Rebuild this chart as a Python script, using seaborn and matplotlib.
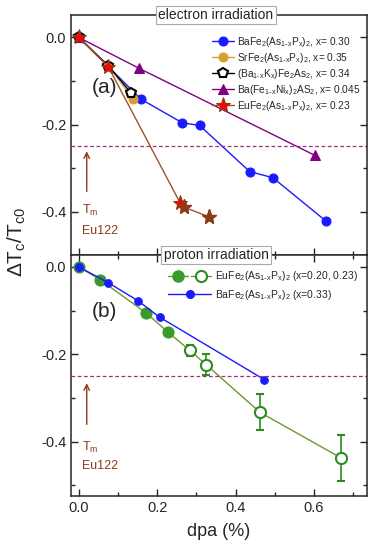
import seaborn as sns
import matplotlib.pyplot as plt
from matplotlib.legend_handler import HandlerTuple
from matplotlib.ticker import MultipleLocator

# electron irradiation (panel a)
ba_e_x = [0, 0.159, 0.264, 0.308, 0.436, 0.495, 0.631]
ba_e_y = [0, -0.142, -0.196, -0.202, -0.308, -0.322, -0.422]
sr_e_x = [0, 0.075, 0.139]
sr_e_y = [0, -0.065, -0.142]
bak_e_x = [0, 0.075, 0.133]
bak_e_y = [0, -0.065, -0.127]
ni_e_x = [0, 0.154, 0.603]
ni_e_y = [0, -0.071, -0.271]
eu_e_x = [0, 0.075, 0.259, 0.267, 0.332]
eu_e_y = [0, -0.067, -0.381, -0.389, -0.412]

# proton irradiation (panel b)
eu_p_x = [0, 0.054, 0.171, 0.227]
eu_p_y = [0, -0.029, -0.105, -0.149]
eu_p2_x = [0.283, 0.325, 0.462, 0.668]
eu_p2_y = [-0.191, -0.224, -0.333, -0.437]
eu_p2_err = [0.012, 0.024, 0.041, 0.053]
ba_p_x = [0, 0.075, 0.150, 0.206, 0.473]
ba_p_y = [0, -0.036, -0.077, -0.115, -0.258]

tm_level = -0.25

sns.set_style('ticks')
plt.rcParams['font.family'] = ['Liberation Sans', 'DejaVu Sans']
plt.rcParams['mathtext.default'] = 'regular'
plt.rcParams['axes.linewidth'] = 1.1

brown = '#8b3a1a'
dash_col = '#a0307f'
green = '#2e8b22'
olive = '#6b9a2a'
sub = r'$_{1\text{-}x}$'

fig = plt.figure(figsize=(3.74, 5.5), dpi=100)
ax_a = fig.add_axes([0.19, 0.536, 0.791, 0.437])
ax_b = fig.add_axes([0.19, 0.098, 0.791, 0.438])


def series(ax, x, y, **kw):
    sns.lineplot(x=x, y=y, ax=ax, estimator=None, sort=False, **kw)


series(ax_a, ba_e_x, ba_e_y, color='#1a1aff', marker='o', markersize=6.5,
       markeredgecolor='#1a1aff', lw=1, label='BaFe$_2$(As' + sub + 'P$_x$)$_2$, x= 0.30')
series(ax_a, sr_e_x, sr_e_y, color='#d4a030', marker='o', markersize=6.5,
       markeredgecolor='#d4a030', lw=1, label='SrFe$_2$(As' + sub + 'P$_x$)$_2$, x= 0.35')
series(ax_a, bak_e_x, bak_e_y, color='black', marker='p', markersize=7,
       markerfacecolor='white', markeredgecolor='black', markeredgewidth=1.5, lw=1,
       label='(Ba' + sub + 'K$_x$)Fe$_2$As$_2$, x= 0.34')
series(ax_a, ni_e_x, ni_e_y, color='#800080', marker='^', markersize=7,
       markeredgecolor='#800080', lw=1, label='Ba(Fe' + sub + 'Ni$_x$)$_2$AS$_2$, x= 0.045')
series(ax_a, eu_e_x, eu_e_y, color='#a0522d', marker='*', markersize=11,
       markerfacecolor='red', markeredgecolor=brown, lw=1,
       label='EuFe$_2$(As' + sub + 'P$_x$)$_2$, x= 0.23')
ax_a.plot(eu_e_x[-2:], eu_e_y[-2:], ls='none', marker='*', markersize=11,
          markerfacecolor=brown, markeredgecolor=brown)

# panel b
ax_b.plot(eu_p_x + eu_p2_x, eu_p_y + eu_p2_y, color=olive, lw=1, zorder=1)
series(ax_b, eu_p_x, eu_p_y, color=green, marker='o', markersize=8, ls='none',
       markeredgecolor='#3a9a2a', markerfacecolor='#3a9a2a')
ax_b.errorbar(eu_p2_x, eu_p2_y, yerr=eu_p2_err, fmt='o', ms=8, mfc='white',
              mec=green, mew=1.5, ecolor=green, elinewidth=1.2, capsize=3, zorder=3)
series(ax_b, ba_p_x, ba_p_y, color='#1a1aff', marker='o', markersize=5.5,
       markeredgecolor='#1a1aff', lw=1)

h_fill = plt.Line2D([], [], color=olive, marker='o', ms=8, mfc='#3a9a2a', mec='#3a9a2a', lw=1)
h_open = plt.Line2D([], [], color=olive, marker='o', ms=8, mfc='white', mec=green, mew=1.5, lw=1)
h_ba = plt.Line2D([], [], color='#1a1aff', marker='o', ms=5.5, lw=1)
ax_b.legend([(h_fill, h_open), h_ba],
            ['EuFe$_2$(As' + sub + 'P$_x$)$_2$ (x=0.20, 0.23)',
             'BaFe$_2$(As' + sub + 'P$_x$)$_2$ (x=0.33)'],
            handler_map={tuple: HandlerTuple(ndivide=None, pad=0.3)},
            loc='upper right', bbox_to_anchor=(1.0, 0.98), frameon=False,
            fontsize=7.5, handlelength=4.2, handletextpad=0.3, labelspacing=0.4)

ax_a.legend(loc='upper right', bbox_to_anchor=(1.01, 0.955), frameon=False,
            fontsize=7.3, handlelength=2.2, handletextpad=0.3, labelspacing=0.2)

for ax, tm_y, txt_y in [(ax_a, (-0.255, -0.36), (-0.398, -0.444)),
                        (ax_b, (-0.26, -0.367), (-0.413, -0.457))]:
    ax.axhline(tm_level, color=dash_col, ls='--', lw=0.9, dashes=(3, 2))
    ax.annotate('', xy=(0.02, tm_y[0]), xytext=(0.02, tm_y[1]),
                arrowprops=dict(arrowstyle='->', color=brown, lw=1))
    ax.text(0.009, txt_y[0], r'T$_m$', color=brown, fontsize=9, va='center')
    ax.text(0.009, txt_y[1], 'Eu122', color=brown, fontsize=9, va='center')
    ax.set_xlim(-0.02, 0.735)
    ax.xaxis.set_major_locator(MultipleLocator(0.2))
    ax.xaxis.set_minor_locator(MultipleLocator(0.1))
    ax.yaxis.set_major_locator(MultipleLocator(0.2))
    ax.yaxis.set_minor_locator(MultipleLocator(0.1))
    ax.tick_params(which='both', direction='in', right=True, labelsize=10.5)
    ax.tick_params(which='major', length=5, width=1)
    ax.tick_params(which='minor', length=3, width=1)
    ax.yaxis.set_major_formatter(plt.FuncFormatter(lambda v, p: f'{v:.1f}'))
    ax.xaxis.set_major_formatter(plt.FuncFormatter(lambda v, p: f'{v:.1f}'))
    ax.set_xlabel('')
    ax.set_ylabel('')

ax_a.set_ylim(-0.5, 0.052)
ax_b.set_ylim(-0.525, 0.027)
ax_a.tick_params(labelbottom=False)
ax_b.tick_params(which='both', top=True)

ax_a.text(0.033, -0.114, '(a)', fontsize=15, va='center')
ax_b.text(0.034, -0.103, '(b)', fontsize=15, va='center')

box = dict(boxstyle='square,pad=0.15', fc='white', ec='#aaaaaa', lw=0.8)
ax_a.text(0.49, 1.0, 'electron irradiation', transform=ax_a.transAxes, ha='center',
          va='center', fontsize=10, bbox=box, zorder=10)
ax_b.text(0.49, 1.0, 'proton irradiation', transform=ax_b.transAxes, ha='center',
          va='center', fontsize=10, bbox=box, zorder=10)

ax_b.set_xlabel('dpa (%)', fontsize=13, labelpad=6)
fig.text(0.045, 0.56, r'$\Delta$T$_c$/T$_{c0}$', rotation=90, fontsize=15,
         ha='center', va='center')

fig.savefig('out.png', dpi=100)
